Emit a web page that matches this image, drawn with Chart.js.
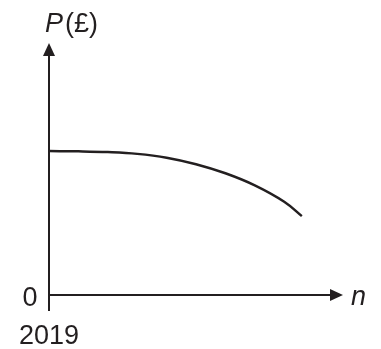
<!DOCTYPE html>
<html>
<head>
<meta charset="utf-8">
<script src="https://cdn.jsdelivr.net/npm/chart.js@4"></script>
<style>
  html, body { margin: 0; padding: 0; background: #fff; }
  #wrap { width: 381px; height: 349px; position: relative; }
</style>
</head>
<body>
<div id="wrap"><canvas id="chart"></canvas></div>
<script>
// Price curve P(n) (n = years after 2019)
const years = [0, 1, 2, 3, 4, 5, 6, 7, 8, 8.6];
const prices = [5.71, 5.70, 5.67, 5.60, 5.45, 5.19, 4.83, 4.35, 3.70, 3.13];
const axisMax = { x: 10, y: 10 };
const labels = { y: 'P', yUnit: '(£)', x: 'n', origin: '0', start: '2019' };

const ink = '#231f20';
const font = '"Liberation Sans", Arial, sans-serif';

// axes with arrowheads plus the text labels
const sketchAxes = {
  id: 'sketchAxes',
  afterDraw(chart) {
    const ctx = chart.ctx;
    const xs = chart.scales.x, ys = chart.scales.y;
    const x0 = xs.getPixelForValue(0), y0 = ys.getPixelForValue(0);
    const xEnd = xs.getPixelForValue(axisMax.x), yEnd = ys.getPixelForValue(axisMax.y);

    ctx.save();
    ctx.strokeStyle = ink;
    ctx.fillStyle = ink;
    ctx.lineWidth = 2;

    // y axis (runs a little below the origin)
    ctx.beginPath();
    ctx.moveTo(x0, y0 + 16);
    ctx.lineTo(x0, yEnd + 10);
    ctx.stroke();
    ctx.beginPath();
    ctx.moveTo(x0, yEnd);
    ctx.lineTo(x0 - 6, yEnd + 13);
    ctx.lineTo(x0 + 6, yEnd + 13);
    ctx.closePath();
    ctx.fill();

    // x axis
    ctx.beginPath();
    ctx.moveTo(x0, y0);
    ctx.lineTo(xEnd - 10, y0);
    ctx.stroke();
    ctx.beginPath();
    ctx.moveTo(xEnd, y0);
    ctx.lineTo(xEnd - 13, y0 - 6);
    ctx.lineTo(xEnd - 13, y0 + 6);
    ctx.closePath();
    ctx.fill();

    // labels
    ctx.textBaseline = 'alphabetic';
    ctx.textAlign = 'left';
    ctx.font = 'italic 27px ' + font;
    ctx.fillText(labels.y, x0 - 4, 32);
    const pw = ctx.measureText(labels.y).width;
    ctx.font = '27px ' + font;
    ctx.fillText(labels.yUnit, x0 - 4 + pw + 2, 32);

    ctx.font = 'italic 27px ' + font;
    ctx.fillText(labels.x, xEnd + 8, y0 + 10);

    ctx.font = '27px ' + font;
    ctx.textAlign = 'center';
    ctx.fillText(labels.origin, x0 - 19, y0 + 11);
    ctx.fillText(labels.start, x0 + 0, y0 + 49);
    ctx.restore();
  }
};

new Chart(document.getElementById('chart'), {
  type: 'line',
  data: {
    datasets: [{
      data: years.map((n, i) => ({ x: n, y: prices[i] })),
      borderColor: ink,
      borderWidth: 2.5,
      pointRadius: 0,
      tension: 0.4,
      fill: false
    }]
  },
  options: {
    responsive: true,
    maintainAspectRatio: false,
    animation: false,
    layout: { padding: { left: 49, right: 38, top: 43, bottom: 54 } },
    plugins: { legend: { display: false }, tooltip: { enabled: false } },
    scales: {
      x: { type: 'linear', min: 0, max: axisMax.x, display: false },
      y: { type: 'linear', min: 0, max: axisMax.y, display: false }
    }
  },
  plugins: [sketchAxes]
});
</script>
</body>
</html>
